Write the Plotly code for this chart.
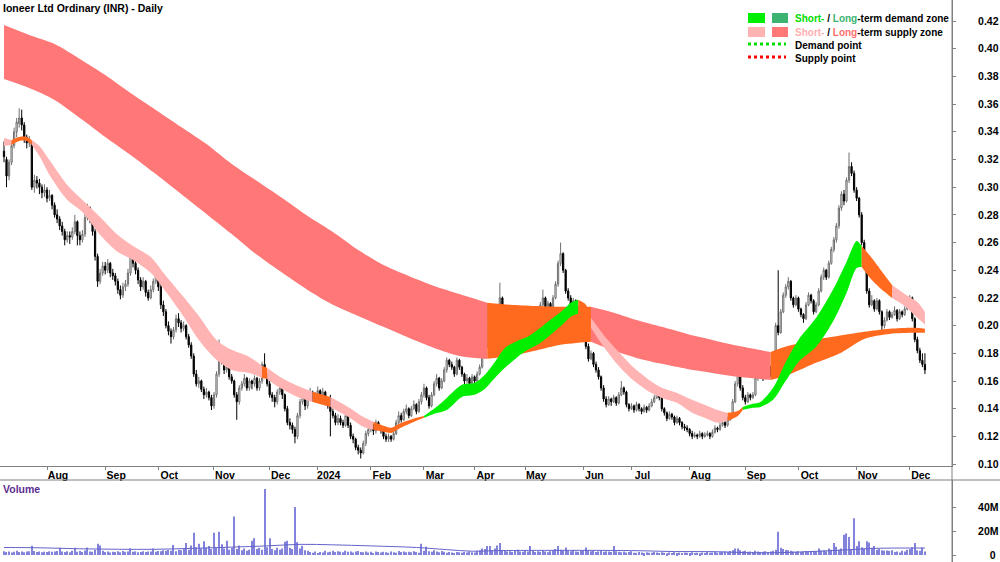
import pandas as pd
import plotly.graph_objects as go

# ---------------- data ----------------
asx_holidays = ["2023-12-25", "2023-12-26", "2024-01-01", "2024-01-26",
                "2024-03-29", "2024-04-01", "2024-04-25", "2024-06-10"]
dates = list(pd.bdate_range("2023-07-07", "2024-12-10", freq="C",
                            holidays=asx_holidays).strftime("%Y-%m-%d"))

open_ = [
    .326, .320, .308, .318, .330, .340, .346, .350, .345, .336,
    .332, .332, .300, .305, .303, .300, .296, .298, .292, .294,
    .287, .280, .277, .272, .268, .262, .265, .264, .268, .275,
    .265, .262, .266, .278, .285, .278, .268, .250, .232, .238,
    .243, .240, .245, .238, .236, .232, .226, .222, .228, .230,
    .238, .250, .245, .240, .233, .228, .232, .224, .220, .226,
    .232, .238, .228, .215, .210, .200, .196, .192, .197, .205,
    .202, .198, .200, .192, .186, .178, .165, .158, .160, .154,
    .150, .152, .148, .142, .150, .165, .182, .175, .168, .170,
    .163, .160, .150, .145, .155, .158, .162, .155, .160, .158,
    .162, .155, .160, .172, .165, .158, .150, .148, .145, .152,
    .155, .150, .140, .130, .128, .125, .120, .135, .145, .148,
    .142, .150, .152, .147, .150, .153, .148, .152, .145, .142,
    .138, .135, .130, .133, .130, .128, .135, .128, .120, .118,
    .112, .110, .108, .115, .122, .125, .128, .124, .130, .127,
    .125, .120, .118, .120, .118, .122, .130, .135, .132, .138,
    .140, .135, .140, .143, .138, .145, .150, .155, .148, .142,
    .150, .158, .162, .155, .160, .168, .175, .172, .170, .165,
    .175, .170, .165, .160, .162, .158, .163, .160, .165, .170,
    .178, .185, .210, .200, .205, .198, .210, .220, .205, .210,
    .203, .198, .205, .195, .188, .195, .200, .198, .203, .200,
    .205, .202, .206, .215, .220, .212, .216, .212, .220, .230,
    .245, .252, .240, .225, .220, .215, .218, .212, .210, .205,
    .200, .185, .176, .180, .172, .168, .163, .155, .147, .143,
    .147, .145, .148, .144, .150, .155, .152, .143, .140, .142,
    .139, .143, .140, .138, .141, .139, .142, .145, .148, .152,
    .148, .140, .137, .133, .136, .134, .130, .133, .130, .127,
    .126, .125, .122, .120, .121, .120, .122, .120, .121, .122,
    .120, .123, .126, .125, .128, .130, .128, .132, .135, .145,
    .158, .165, .155, .148, .145, .150, .148, .150, .162, .168,
    .165, .162, .168, .170, .165, .175, .200, .195, .210, .222,
    .228, .232, .220, .215, .220, .212, .208, .205, .215, .222,
    .218, .210, .215, .225, .235, .240, .235, .245, .255, .262,
    .272, .285, .295, .290, .305, .315, .310, .298, .292, .280,
    .260, .245, .225, .215, .218, .212, .218, .210, .200, .204,
    .210, .206, .208, .211, .205, .210, .208, .212, .215, .220,
    .205, .190, .182, .175, .172]

high = [
    .333, .322, .320, .333, .343, .350, .357, .356, .347, .338,
    .337, .333, .309, .308, .306, .302, .302, .300, .298, .295,
    .289, .284, .279, .275, .270, .268, .268, .271, .280, .276,
    .268, .269, .281, .288, .286, .280, .270, .252, .241, .246,
    .246, .248, .246, .241, .238, .234, .229, .231, .233, .241,
    .255, .252, .247, .242, .235, .235, .233, .226, .229, .234,
    .240, .239, .230, .218, .212, .203, .198, .199, .208, .209,
    .204, .203, .201, .194, .188, .180, .168, .163, .161, .156,
    .155, .153, .150, .152, .167, .190, .184, .177, .173, .171,
    .165, .161, .152, .157, .160, .165, .163, .162, .161, .164,
    .163, .162, .174, .180, .166, .160, .152, .150, .154, .160,
    .156, .151, .142, .133, .130, .127, .137, .147, .152, .149,
    .152, .155, .153, .152, .156, .154, .155, .153, .147, .150,
    .140, .137, .136, .135, .132, .137, .136, .130, .122, .119,
    .114, .112, .117, .124, .128, .131, .129, .132, .131, .128,
    .126, .122, .122, .121, .124, .132, .138, .137, .140, .143,
    .141, .142, .146, .144, .147, .152, .158, .156, .150, .152,
    .160, .165, .163, .162, .170, .177, .176, .174, .171, .177,
    .176, .171, .166, .165, .163, .165, .164, .167, .172, .180,
    .186, .216, .212, .208, .207, .212, .231, .221, .213, .211,
    .204, .207, .206, .197, .197, .203, .202, .205, .204, .207,
    .206, .208, .217, .226, .221, .218, .217, .222, .232, .247,
    .260, .253, .241, .227, .222, .220, .219, .214, .211, .206,
    .201, .187, .182, .181, .174, .170, .164, .157, .149, .149,
    .148, .150, .149, .152, .160, .156, .153, .144, .144, .143,
    .145, .144, .141, .143, .142, .144, .147, .150, .155, .153,
    .149, .141, .138, .138, .137, .135, .135, .134, .131, .129,
    .128, .126, .124, .123, .122, .124, .123, .123, .124, .123,
    .125, .128, .127, .130, .132, .131, .134, .137, .147, .160,
    .170, .166, .157, .150, .152, .151, .152, .164, .170, .170,
    .167, .170, .172, .171, .177, .202, .240, .212, .224, .230,
    .235, .233, .221, .222, .221, .213, .209, .217, .224, .223,
    .219, .217, .227, .237, .242, .241, .247, .257, .264, .274,
    .287, .297, .298, .307, .325, .318, .312, .300, .293, .282,
    .262, .247, .227, .222, .219, .220, .219, .211, .206, .212,
    .211, .210, .214, .212, .212, .211, .214, .217, .222, .221,
    .206, .192, .184, .180, .180]

low = [
    .318, .300, .305, .316, .328, .336, .343, .341, .332, .328,
    .329, .298, .296, .299, .295, .292, .293, .289, .290, .284,
    .278, .274, .269, .265, .258, .260, .259, .262, .266, .258,
    .258, .260, .264, .276, .274, .265, .247, .228, .230, .236,
    .237, .238, .235, .233, .229, .223, .219, .220, .225, .228,
    .236, .242, .237, .230, .225, .226, .221, .218, .219, .224,
    .230, .225, .212, .207, .198, .193, .187, .190, .195, .199,
    .195, .196, .190, .184, .176, .163, .156, .155, .152, .147,
    .148, .146, .139, .140, .148, .163, .172, .165, .166, .161,
    .158, .148, .132, .143, .153, .156, .153, .153, .154, .156,
    .153, .153, .158, .163, .156, .148, .145, .141, .143, .150,
    .147, .138, .128, .125, .122, .115, .118, .133, .143, .139,
    .140, .148, .145, .145, .148, .146, .146, .143, .140, .120,
    .133, .128, .128, .128, .126, .127, .126, .118, .115, .110,
    .107, .104, .107, .113, .120, .123, .121, .122, .125, .122,
    .118, .116, .116, .116, .117, .121, .128, .130, .131, .136,
    .133, .134, .139, .136, .137, .143, .148, .146, .140, .141,
    .149, .156, .153, .154, .159, .166, .170, .168, .163, .164,
    .168, .163, .157, .158, .156, .157, .158, .159, .164, .169,
    .176, .184, .198, .198, .196, .197, .208, .203, .204, .201,
    .196, .197, .193, .180, .186, .194, .196, .197, .198, .199,
    .200, .201, .205, .213, .210, .211, .210, .211, .219, .228,
    .243, .238, .223, .218, .213, .214, .210, .208, .203, .198,
    .183, .174, .175, .170, .166, .161, .153, .145, .141, .142,
    .142, .144, .142, .143, .149, .150, .141, .138, .139, .137,
    .138, .138, .136, .137, .137, .138, .141, .144, .147, .146,
    .138, .135, .131, .132, .132, .128, .129, .128, .125, .124,
    .123, .120, .118, .119, .118, .119, .118, .119, .120, .118,
    .119, .122, .123, .124, .127, .126, .127, .131, .134, .144,
    .156, .153, .146, .143, .144, .146, .147, .149, .160, .163,
    .160, .161, .166, .163, .164, .174, .193, .194, .209, .220,
    .226, .218, .213, .214, .210, .206, .202, .204, .214, .216,
    .208, .209, .214, .224, .233, .233, .234, .244, .253, .260,
    .270, .283, .287, .289, .303, .308, .296, .290, .278, .258,
    .243, .223, .213, .214, .210, .211, .208, .195, .198, .203,
    .204, .205, .207, .203, .204, .206, .207, .211, .213, .203,
    .188, .180, .173, .170, .165]

close = [
    .322, .308, .318, .330, .340, .347, .350, .345, .335, .332,
    .333, .300, .305, .303, .300, .296, .298, .292, .294, .287,
    .280, .277, .272, .268, .262, .265, .264, .268, .275, .265,
    .262, .266, .278, .285, .278, .268, .250, .232, .238, .243,
    .240, .245, .238, .236, .232, .226, .222, .228, .230, .238,
    .250, .245, .240, .233, .228, .232, .224, .220, .226, .232,
    .238, .228, .215, .210, .200, .196, .192, .197, .205, .202,
    .198, .200, .192, .186, .178, .165, .158, .160, .154, .150,
    .152, .148, .142, .150, .165, .182, .175, .168, .170, .163,
    .160, .150, .145, .155, .158, .162, .155, .160, .158, .162,
    .155, .160, .172, .165, .158, .150, .148, .145, .152, .155,
    .150, .140, .130, .128, .125, .120, .135, .145, .148, .142,
    .150, .152, .147, .150, .153, .148, .152, .145, .142, .138,
    .135, .130, .133, .130, .128, .135, .128, .120, .118, .112,
    .110, .108, .115, .122, .125, .128, .124, .130, .127, .125,
    .120, .118, .120, .118, .122, .130, .135, .132, .138, .140,
    .135, .140, .143, .138, .145, .150, .155, .148, .142, .150,
    .158, .162, .155, .160, .168, .175, .172, .170, .165, .175,
    .170, .165, .160, .162, .158, .163, .160, .165, .170, .178,
    .183, .210, .200, .205, .198, .210, .220, .205, .210, .203,
    .198, .205, .195, .188, .195, .200, .198, .203, .200, .205,
    .202, .206, .215, .220, .212, .216, .212, .220, .230, .245,
    .252, .240, .225, .220, .215, .218, .212, .210, .205, .200,
    .185, .176, .180, .172, .168, .163, .155, .147, .143, .147,
    .145, .148, .144, .150, .155, .152, .143, .140, .142, .139,
    .143, .140, .138, .141, .139, .142, .145, .148, .152, .148,
    .140, .137, .133, .136, .134, .130, .133, .130, .127, .126,
    .125, .122, .120, .121, .120, .122, .120, .121, .122, .120,
    .123, .126, .125, .128, .130, .128, .132, .135, .145, .158,
    .165, .155, .148, .145, .150, .148, .150, .162, .168, .165,
    .162, .168, .170, .165, .175, .200, .195, .210, .222, .228,
    .232, .220, .215, .220, .212, .208, .205, .215, .222, .218,
    .210, .215, .225, .235, .240, .235, .245, .255, .262, .272,
    .285, .295, .290, .305, .315, .310, .298, .292, .280, .260,
    .245, .225, .215, .218, .212, .218, .210, .200, .204, .210,
    .206, .208, .211, .205, .210, .208, .212, .215, .220, .205,
    .190, .182, .175, .172, .168]

# volume in millions of shares
volume_m = [
    3.2, 2.5, 3.0, 2.2, 2.8, 3.5, 2.6, 3.0, 2.4, 2.9,
    3.1, 7.8, 3.4, 2.6, 3.0, 2.3, 2.8, 2.5, 3.1, 2.7,
    2.9, 3.3, 6.0, 3.0, 2.6, 3.2, 2.4, 3.5, 6.0, 2.8,
    3.3, 2.6, 3.8, 6.2, 3.0, 2.7, 4.5, 9.4, 8.0, 3.5,
    2.6, 3.0, 2.2, 2.8, 2.5, 3.1, 2.4, 3.4, 2.7, 2.9,
    5.5, 2.8, 3.0, 2.3, 2.6, 3.2, 2.5, 2.9, 3.0, 5.5,
    2.8, 3.4, 3.1, 4.0, 3.5, 4.2, 3.6, 8.4, 3.2, 4.5,
    4.0, 5.0, 10.0, 4.5, 8.0, 18.6, 6.5, 9.4, 5.5, 11.5,
    6.0, 7.5, 5.0, 18.6, 6.0, 19.3, 9.0, 5.5, 12.0, 4.5,
    6.0, 32.0, 5.0, 8.0, 4.0, 5.5, 3.5, 4.5, 12.0, 14.0,
    5.0, 6.0, 4.5, 55.0, 6.5, 14.0, 5.0, 4.0, 6.0, 4.5,
    5.5, 11.0, 12.0, 6.0, 5.0, 40.0, 10.7, 5.5, 7.6, 4.0,
    3.5, 2.5, 2.0, 3.0, 1.8, 2.6, 2.2, 3.5, 2.4, 2.8,
    3.6, 2.5, 3.2, 2.8, 2.3, 3.6, 2.7, 3.0, 2.2, 2.9,
    3.4, 2.6, 2.4, 3.0, 2.2, 2.8, 1.8, 3.0, 2.5, 2.1,
    2.7, 2.4, 1.9, 3.0, 2.3, 2.0, 3.4, 2.6, 2.9, 2.3,
    2.8, 2.4, 3.1, 2.6, 2.0, 9.4, 3.5, 7.0, 3.2, 2.7,
    4.0, 3.0, 2.4, 3.4, 2.8, 2.0, 2.5, 2.2, 1.8, 2.6,
    2.3, 2.0, 2.6, 2.2, 3.0, 2.4, 2.1, 3.5, 4.0, 5.5,
    5.0, 7.6, 7.6, 4.0, 5.5, 8.0, 10.0, 4.2, 3.6, 3.0,
    3.2, 2.6, 3.8, 4.5, 3.0, 2.8, 3.4, 3.0, 7.6, 3.4,
    2.6, 3.1, 2.8, 3.6, 3.0, 2.4, 3.2, 4.0, 5.0, 7.6,
    4.5, 3.8, 6.3, 3.5, 3.2, 4.2, 3.0, 2.8, 3.4, 3.6,
    6.3, 4.0, 3.2, 3.5, 2.6, 3.0, 3.8, 2.8, 3.2, 3.0,
    2.6, 7.6, 3.2, 2.8, 2.4, 3.0, 2.2, 2.6, 3.2, 2.0,
    1.8, 2.5, 2.2, 1.6, 2.4, 2.0, 1.9, 2.6, 2.2, 1.7,
    2.3, 2.0, 1.5, 2.1, 1.8, 2.4, 1.6, 2.0, 1.7, 2.2,
    1.9, 1.6, 2.3, 1.8, 2.0, 1.5, 2.2, 1.7, 2.5, 1.9,
    2.2, 2.6, 2.0, 2.4, 2.8, 3.0, 2.5, 3.4, 4.0, 5.5,
    5.5, 4.0, 3.2, 3.6, 2.8, 3.0, 2.6, 3.5, 3.0, 2.6,
    2.8, 3.2, 2.5, 3.0, 3.6, 4.5, 19.3, 6.0, 5.0, 4.2,
    4.0, 3.5, 3.0, 2.8, 3.2, 2.6, 3.0, 3.4, 2.8, 3.0,
    3.4, 2.8, 5.5, 3.6, 4.0, 3.2, 5.5, 4.5, 10.0, 7.0,
    4.5, 5.5, 17.0, 18.0, 15.0, 5.0, 30.6, 7.6, 11.5, 6.5,
    5.5, 11.5, 10.5, 6.0, 7.6, 4.5, 5.0, 4.0, 3.6, 3.8,
    3.5, 4.0, 2.5, 3.0, 2.2, 3.6, 3.0, 4.5, 5.0, 6.5,
    10.0, 4.0, 3.5, 6.3, 3.0]

# volume average line, read at selected sessions (session number, millions)
vol_ma_day = [0, 15, 30, 45, 60, 75, 90, 104, 117, 130, 145, 163, 175, 185,
              196, 220, 248, 265, 281, 295, 307, 320, 333, 345, 364]
vol_ma_m = [6.3, 6.0, 5.2, 4.8, 4.8, 5.6, 6.6, 7.6, 8.9, 8.5, 7.6, 6.3, 4.5, 3.2,
            3.7, 3.9, 3.7, 2.9, 2.8, 1.9, 2.0, 3.0, 4.3, 5.6, 5.8]

# long-term zone edges, read at selected sessions
lt_day = [0, 10, 20, 30, 40, 50, 60, 70, 80, 90, 100, 110, 120, 130, 140, 150,
          160, 170, 180, 191, 200, 210, 220, 232, 240, 250, 260, 270, 280, 290,
          303, 310, 320, 330, 340, 350, 360, 364]
lt_upper = [.4171, .4099, .4034, .3926, .3810, .3680, .3558, .3435, .3312, .3168,
            .3045, .2922, .2792, .2677, .2547, .2438, .2359, .2287, .2229, .2166,
            .2151, .2142, .2136, .2136, .2099, .2041, .1991, .1940, .1897, .1854,
            .1810, .1854, .1897, .1926, .1955, .1977, .1984, .1977]
lt_lower = [.3781, .3716, .3630, .3500, .3363, .3233, .3095, .2951, .2807, .2662,
            .2511, .2381, .2258, .2151, .2070, .1991, .1912, .1839, .1781, .1760,
            .1781, .1818, .1861, .1883, .1825, .1767, .1724, .1687, .1658, .1630,
            .1608, .1644, .1724, .1796, .1904, .1940, .1948, .1948]
lt_state = [(0, 191, "supply"), (191, 232, "mixed"),
            (232, 303, "supply"), (303, 364, "mixed")]

# short-term zone edges
st_day = [0, 3, 6, 9, 11, 14, 18, 25, 31, 38,
          45, 51, 58, 64, 71, 77, 84, 90, 97, 102,
          104, 109, 116, 122, 129, 136, 142, 146, 150, 153,
          156, 163, 166, 170, 175, 181, 186, 190, 194, 198,
          203, 207, 212, 217, 221, 224, 227, 230, 232, 237,
          243, 249, 255, 260, 266, 272, 278, 282, 286, 290,
          292, 296, 299, 304, 309, 314, 321, 328, 333, 337,
          339, 343, 348, 351, 356, 361, 364]
st_upper = [.3355, .3341, .3363, .3363, .3341, .3298, .3196, .3016, .2908, .2785,
            .2655, .2576, .2496, .2359, .2207, .2070, .1897, .1825, .1774, .1709,
            .1695, .1630, .1565, .1522, .1485, .1413, .1341, .1305, .1276, .1262,
            .1290, .1334, .1348, .1399, .1478, .1572, .1587, .1644, .1738, .1839,
            .1890, .1919, .1984, .2056, .2113, .2166, .2186, .2151, .2056, .1933,
            .1810, .1695, .1608, .1551, .1514, .1464, .1420, .1391, .1370, .1384,
            .1413, .1435, .1449, .1551, .1738, .1897, .2056, .2272, .2460, .2612,
            .2576, .2489, .2366, .2294, .2229, .2171, .2099]
st_lower = [.3298, .3305, .3334, .3334, .3305, .3225, .3088, .2908, .2821, .2655,
            .2532, .2474, .2381, .2244, .2064, .1897, .1753, .1680, .1658, .1622,
            .1615, .1551, .1485, .1449, .1413, .1341, .1269, .1247, .1233, .1225,
            .1254, .1312, .1334, .1363, .1391, .1485, .1500, .1543, .1622, .1695,
            .1774, .1825, .1875, .1948, .2012, .2064, .2085, .2041, .1984, .1847,
            .1709, .1601, .1522, .1478, .1442, .1370, .1326, .1298, .1312, .1348,
            .1391, .1406, .1413, .1464, .1601, .1738, .1847, .2041, .2236, .2417,
            .2424, .2330, .2244, .2200, .2142, .2056, .2007]
st_state = [(0, 3, "supply"), (3, 11, "mixed"), (11, 102, "supply"),
            (102, 104, "mixed"), (104, 122, "supply"), (122, 129, "mixed"),
            (129, 146, "supply"), (146, 166, "mixed"), (166, 227, "demand"),
            (227, 232, "mixed"), (232, 286, "supply"), (286, 292, "mixed"),
            (292, 339, "demand"), (339, 351, "mixed"), (351, 364, "supply")]

price_ticks = [0.10, 0.12, 0.14, 0.16, 0.18, 0.20, 0.22, 0.24, 0.26, 0.28,
               0.30, 0.32, 0.34, 0.36, 0.38, 0.40, 0.42]
vol_ticks = [0, 20, 40]
vol_tick_text = ["\u2007\u20070", "20M", "40M"]

# ---------------- styling ----------------
ST_SUPPLY = "#FFB3B3"
LT_SUPPLY = "#FF7777"
MIXED = "#FF6A1F"
ST_DEMAND = "#00EE00"
LT_DEMAND = "#3CB371"
FONT = "Liberation Sans, Arial, sans-serif"
W, H, PLOT_W = 1000, 562, 952


def px_x(px):
    return px / PLOT_W


def px_y(py):
    return 1 - py / H


month_ticks, month_labels = [], []
prev = dates[0][:7]
for d in dates[1:]:
    if d[:7] != prev:
        month_ticks.append(d)
        month_labels.append(d[:4] if d[5:7] == "01" else pd.Timestamp(d).strftime("%b"))
        prev = d[:7]

zone_colors_lt = {"supply": LT_SUPPLY, "mixed": MIXED, "demand": LT_DEMAND}
zone_colors_st = {"supply": ST_SUPPLY, "mixed": MIXED, "demand": ST_DEMAND}

fig = go.Figure()


def add_band(days, upper, lower, states, colors):
    for start, end, state in states:
        sel = [i for i, d in enumerate(days) if start <= d <= end]
        xs = [dates[days[i]] for i in sel]
        fig.add_trace(go.Scatter(
            x=xs, y=[lower[i] for i in sel], mode="lines",
            line=dict(width=0, shape="spline", smoothing=0.8),
            hoverinfo="skip", showlegend=False, xaxis="x", yaxis="y"))
        fig.add_trace(go.Scatter(
            x=xs, y=[upper[i] for i in sel], mode="lines",
            line=dict(width=0, shape="spline", smoothing=0.8),
            fill="tonexty", fillcolor=colors[state],
            hoverinfo="skip", showlegend=False, xaxis="x", yaxis="y"))


add_band(lt_day, lt_upper, lt_lower, lt_state, zone_colors_lt)
add_band(st_day, st_upper, st_lower, st_state, zone_colors_st)

fig.add_trace(go.Candlestick(
    x=dates, open=open_, high=high, low=low, close=close,
    increasing=dict(line=dict(color="#6e6e6e", width=1), fillcolor="#ffffff"),
    decreasing=dict(line=dict(color="#000000", width=1), fillcolor="#000000"),
    whiskerwidth=0, hoverinfo="skip", showlegend=False, xaxis="x", yaxis="y"))

fig.add_trace(go.Bar(
    x=dates, y=volume_m, width=0.45,
    marker=dict(color="#8383db", line=dict(width=0)),
    hoverinfo="skip", showlegend=False, xaxis="x2", yaxis="y2"))
fig.add_trace(go.Scatter(
    x=[dates[d] for d in vol_ma_day], y=vol_ma_m, mode="lines",
    line=dict(color="#6464cc", width=1, shape="spline", smoothing=1.0),
    hoverinfo="skip", showlegend=False, xaxis="x2", yaxis="y2"))

tickfont = dict(family=FONT, size=10.5, color="#000000", weight="bold")
x_range = [-1.58, 374.7]
fig.update_layout(
    width=W, height=H,
    margin=dict(l=0, r=W - PLOT_W, t=0, b=0, autoexpand=False),
    paper_bgcolor="white", plot_bgcolor="white", showlegend=False,
    font=dict(family=FONT, size=10.5, color="#000000"),
    xaxis=dict(domain=[0, 1], anchor="y", type="category", automargin=False,
               categoryorder="array", categoryarray=dates, range=x_range,
               tickmode="array", tickvals=month_ticks, ticktext=month_labels,
               ticks="outside", ticklen=3, tickcolor="#808080",
               ticklabelshift=11, ticklabelstandoff=-4, tickfont=tickfont,
               showline=True, linecolor="#808080", linewidth=1,
               showgrid=False, zeroline=False, rangeslider=dict(visible=False)),
    yaxis=dict(domain=[px_y(466), 1], anchor="x", side="right", automargin=False,
               range=[0.0986, 0.4352], tickmode="array", tickvals=price_ticks,
               tickformat=".2f", ticks="outside", ticklen=3, tickcolor="#808080",
               ticklabelstandoff=20, tickfont=tickfont, ticklabeloverflow="allow",
               showline=True, linecolor="#808080", linewidth=1,
               showgrid=False, zeroline=False),
    xaxis2=dict(domain=[0, 1], anchor="y2", type="category", matches="x",
                automargin=False,
                categoryorder="array", categoryarray=dates, range=x_range,
                showticklabels=False, ticks="", showline=False,
                showgrid=False, zeroline=False),
    yaxis2=dict(domain=[0, px_y(480)], anchor="x2", side="right", automargin=False,
                range=[-5.8, 62.5], tickmode="array", tickvals=vol_ticks,
                ticktext=vol_tick_text, ticks="outside", ticklen=3,
                tickcolor="#808080", ticklabelstandoff=20, tickfont=tickfont,
                ticklabeloverflow="allow",
                showline=True, linecolor="#808080", linewidth=1,
                showgrid=False, zeroline=False),
)

shapes = [
    dict(type="line", xref="paper", yref="paper", x0=1, x1=1, y0=0, y1=1,
         line=dict(color="#808080", width=1)),
    dict(type="line", xref="paper", yref="paper", x0=0, x1=px_x(W),
         y0=px_y(480), y1=px_y(480), line=dict(color="#808080", width=1)),
]
# legend swatches
for (y0, y1), (c1, c2) in [((13, 23), (ST_DEMAND, LT_DEMAND)),
                           ((27, 37), (ST_SUPPLY, LT_SUPPLY))]:
    shapes.append(dict(type="rect", xref="paper", yref="paper",
                       x0=px_x(748), x1=px_x(765), y0=px_y(y1), y1=px_y(y0),
                       fillcolor=c1, line=dict(width=0)))
    shapes.append(dict(type="rect", xref="paper", yref="paper",
                       x0=px_x(772), x1=px_x(788), y0=px_y(y1), y1=px_y(y0),
                       fillcolor=c2, line=dict(width=0)))
for yy, c in [(44, "#00DD00"), (57, "#FF0000")]:
    shapes.append(dict(type="line", xref="paper", yref="paper",
                       x0=px_x(748), x1=px_x(786), y0=px_y(yy), y1=px_y(yy),
                       line=dict(color=c, width=3, dash="dot")))
fig.update_layout(shapes=shapes)

bold = dict(family=FONT, size=10.5, color="#000000", weight="bold")
legend_font = dict(family=FONT, size=10, color="#000000", weight="bold")
annotations = [
    dict(text="Ioneer Ltd Ordinary (INR) - Daily", x=px_x(1), y=px_y(8),
         font=bold),
    dict(text="Volume", x=px_x(1), y=px_y(489),
         font=dict(family=FONT, size=10.5, color="#5c2d91", weight="bold")),
    dict(text='<span style="color:#00DD00">Short-</span> / '
              '<span style="color:#3CB371">Long</span>-term demand zone',
         x=px_x(793), y=px_y(18), font=legend_font),
    dict(text='<span style="color:#FFB0B0">Short-</span> / '
              '<span style="color:#FF7070">Long</span>-term supply zone',
         x=px_x(793), y=px_y(32), font=legend_font),
    dict(text="Demand point", x=px_x(793), y=px_y(45), font=legend_font),
    dict(text="Supply point", x=px_x(793), y=px_y(58), font=legend_font),
]
for a in annotations:
    a.update(xref="paper", yref="paper", xanchor="left", yanchor="middle",
             showarrow=False)
fig.update_layout(annotations=annotations)

fig.write_html("out.html")
